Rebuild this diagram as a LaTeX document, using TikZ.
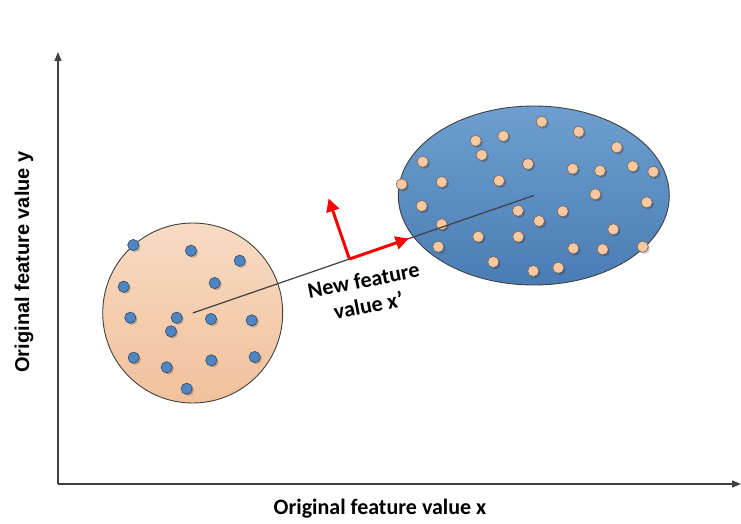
\documentclass[tikz,border=0pt]{standalone}
\usepackage{fontspec}
\setmainfont{Carlito}
\newfontfamily\labelsans{Liberation Sans}
\usetikzlibrary{arrows.meta,shapes.geometric,calc}

\definecolor{axisgray}{HTML}{404040}
\definecolor{peachtop}{HTML}{F8DBC4}
\definecolor{peachbot}{HTML}{F1C19B}
\definecolor{bluetop}{HTML}{6E9FD0}
\definecolor{bluebot}{HTML}{4A7CB4}
\definecolor{dotblue}{HTML}{4F86C2}
\definecolor{dotblueline}{HTML}{2E4A6B}
\definecolor{dotpeach}{HTML}{F6C9A3}
\definecolor{dotpeachline}{HTML}{7A6455}

\tikzset{
  axis/.style={draw=axisgray, line width=1.3pt, -{Triangle[length=9pt,width=7pt]}},
  cluster/.style={draw=axisgray, line width=0.9pt},
  dotshadow/.style={fill=black, opacity=0.22},
  bluedot/.style={fill=dotblue, draw=dotblueline, line width=0.6pt},
  peachdot/.style={fill=dotpeach, draw=dotpeachline, line width=0.6pt},
  redarrow/.style={draw=red, line width=3pt, -{Triangle[length=13pt,width=13pt]}},
  boldlabel/.style={font=\fontsize{22}{26}\selectfont\bfseries},
}

\begin{document}
\begin{tikzpicture}[x=1pt,y=-1pt]
  \useasboundingbox (0,0) rectangle (741,524);
  \fill[white] (0,0) rectangle (741,524);

  % axes
  \coordinate (origin) at (58,484);
  \coordinate (ytop) at (58,52);
  \coordinate (xend) at (741,484);
  \draw[axis] (origin) -- (ytop);
  \draw[axis] (origin) -- (xend);

  \node[boldlabel] (xlabel) at (380,509) {Original feature value x};
  \node[font=\labelsans\fontsize{20}{24}\selectfont\bfseries, rotate=90] (ylabel) at (24,262) {Original feature value y};

  % the two clusters
  \node[cluster, circle, minimum size=180pt, inner sep=0pt,
        top color=peachtop, bottom color=peachbot] (c1) at (192.7,313) {};
  \node[cluster, ellipse, minimum width=271pt, minimum height=179pt, inner sep=0pt,
        top color=bluetop, bottom color=bluebot] (c2) at (533.8,195.5) {};

  % blue points in the peach cluster
  \foreach \px/\py in {133.3/245, 191/250.7, 239.7/260.7, 123.7/286.7, 214.7/283,
      130.3/317.7, 176.7/317.7, 211/319, 251.7/320.3, 171/331.3,
      133.7/357.7, 166.7/367.3, 211.3/360.3, 254.7/357, 186.7/388.7} {
    \fill[dotshadow] (\px+1.6,\py+1.6) circle (5.6);
    \draw[bluedot] (\px,\py) circle (5.6);
  }

  % peach points in the blue cluster
  \foreach \px/\py in {541.7/121.7, 578.7/131.7, 475.7/140.7, 503.3/136, 616.7/147.3,
      481.7/155, 422.7/161.7, 528/164, 572.7/168.7, 600/170.7, 632.7/166.3,
      653.3/171.7, 401.7/184.3, 441.7/182, 499/180.7, 595.3/194.3, 646.7/202.3,
      421.7/206, 518/210.7, 562.7/211.3, 539/221, 441.7/224.3, 613.3/229.3,
      478.3/236.7, 518.3/236.7, 438.3/246.7, 573.3/248.3, 602.7/249.3,
      642.7/246.7, 493.3/262, 533.3/271, 558.3/267.7} {
    \fill[dotshadow] (\px+1.6,\py+1.6) circle (5.6);
    \draw[peachdot] (\px,\py) circle (5.6);
  }

  % new feature direction through both cluster centres
  \draw[axisgray, line width=1.2pt] (c1.center) -- (c2.center);

  \coordinate (pc) at ($(c1.center)!0.4595!(c2.center)$);
  \coordinate (pdir) at ($(c1.center)!0.633!(c2.center)$);
  \coordinate (pnorm) at ($(pc)!64pt!90:(c2.center)$);
  \draw[redarrow] (pc) -- (pdir);
  \draw[redarrow] (pc) -- (pnorm);

  \node[boldlabel, align=center, rotate=11, inner sep=1pt] (newlabel) at (366,293)
    {New feature\\value x’};
\end{tikzpicture}
\end{document}
